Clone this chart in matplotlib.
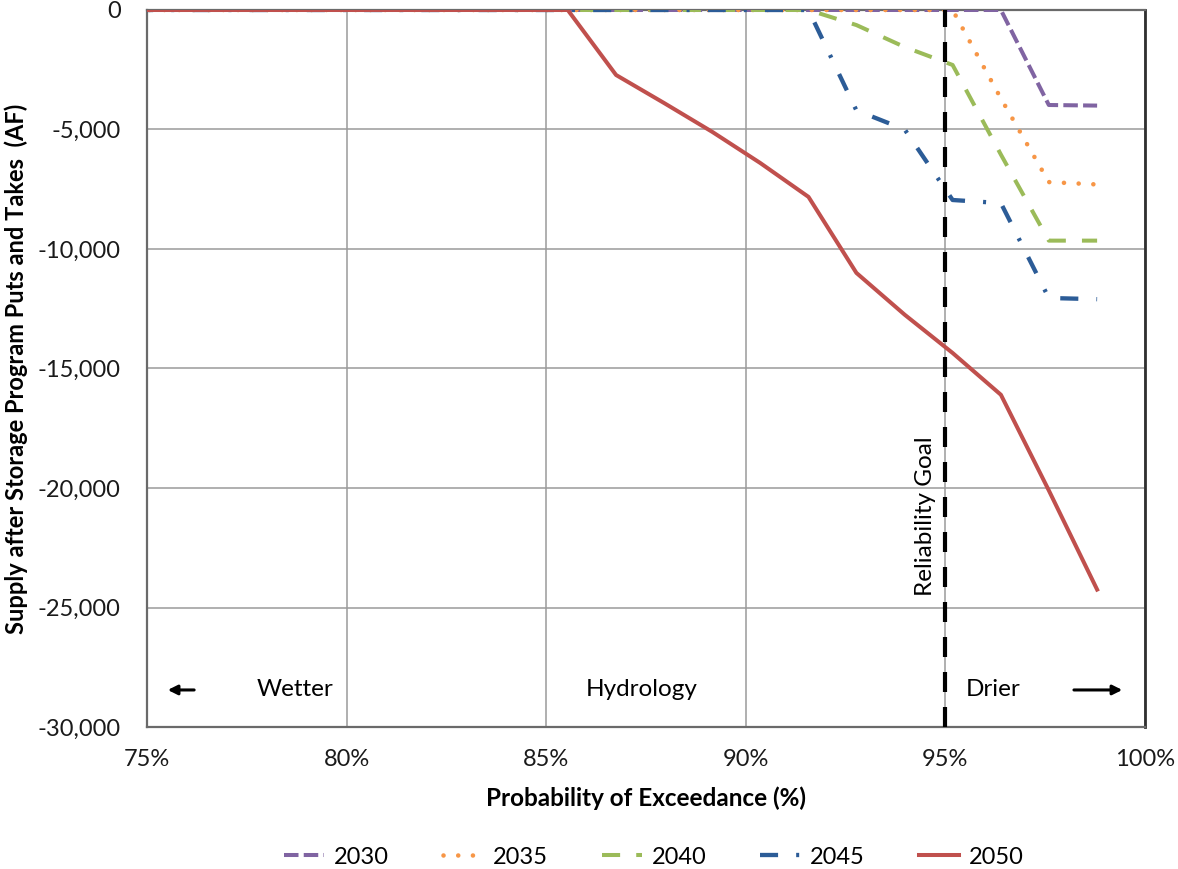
import matplotlib
matplotlib.use("Agg")
import matplotlib.pyplot as plt
from matplotlib.ticker import FuncFormatter, MultipleLocator

plt.rcParams['font.family'] = ['Lato', 'DejaVu Sans']

# Exceedance probabilities (%) of the plotted vertices
prob = [74.70, 85.54, 86.75, 87.95, 89.16, 90.36, 91.57, 92.77, 93.98, 95.18, 96.39, 97.59, 98.80]

s2030 = [0, 0, 0, 0, 0, 0, 0, 0, 0, 0, 0, -3975, -4000]
s2035 = [0, 0, 0, 0, 0, 0, 0, 0, 0, 0, -3700, -7200, -7300]
s2040 = [0, 0, 0, 0, 0, 0, 0, -630, -1550, -2300, -6050, -9650, -9650]
s2045 = [0, 0, 0, 0, 0, 0, 0, -4200, -5000, -7950, -8080, -12050, -12100]
s2050 = [0, 0, -2720, -3890, -5100, -6400, -7820, -11000, -12750, -14350, -16100, -20100, -24250]

labels = ['2030', '2035', '2040', '2045', '2050']
colors = ['#8064A2', '#F79646', '#9BBB59', '#2C5C97', '#C0504D']

fig = plt.figure(figsize=(11.78, 8.69), dpi=100)
ax = fig.add_axes([0.1248, 0.1634, 0.972 - 0.1248, 0.9885 - 0.1634])

LW = 2.9
ax.plot(prob, s2030, color=colors[0], lw=LW, dashes=(3.6, 1.3), label=labels[0], zorder=3)
ax.plot(prob, s2035, color=colors[1], lw=LW + 0.4, dashes=(0.01, 3.2), dash_capstyle='round', label=labels[1], zorder=3)
ax.plot(prob, s2040, color=colors[2], lw=LW, dashes=(4.5, 4.0), label=labels[2], zorder=3)
ax.plot(prob, s2045, color=colors[3], lw=LW + 0.2, dashes=(4.2, 4.2, 0.7, 4.2), label=labels[3], zorder=3)
ax.plot(prob, s2050, color=colors[4], lw=LW, label=labels[4], zorder=4)

ax.axvline(95, color='black', lw=3.0, dashes=(4.8, 3.6), zorder=5)

ax.set_xlim(75, 100)
ax.set_ylim(-30000, 0)
ax.xaxis.set_major_locator(MultipleLocator(5))
ax.yaxis.set_major_locator(MultipleLocator(5000))
ax.xaxis.set_major_formatter(FuncFormatter(lambda v, p: f"{v:.0f}%"))
ax.yaxis.set_major_formatter(FuncFormatter(lambda v, p: f"{v:,.0f}"))
ax.grid(True, color='#9A9A9A', lw=1.1, zorder=0)
ax.tick_params(axis='both', length=0, labelsize=17, colors='#1a1a1a')
ax.tick_params(axis='x', pad=16)
ax.tick_params(axis='y', pad=19)

for s in ['left', 'bottom', 'top']:
    ax.spines[s].set_color('#6A6A6A')
    ax.spines[s].set_linewidth(1.6)
ax.spines['right'].set_color('#303030')
ax.spines['right'].set_linewidth(2)

ax.set_xlabel('Probability of Exceedance (%)', fontsize=17.5, fontweight='bold')
ax.set_ylabel('Supply after Storage Program Puts and Takes  (AF)', fontsize=17, fontweight='bold')
ax.xaxis.set_label_coords(0.5, -(786 - 727) / 717, transform=ax.transAxes)
ax.yaxis.set_label_coords(-(147 - 28) / 998, 0.5, transform=ax.transAxes)

ax.text(94.49, -21170, 'Reliability Goal', rotation=90, ha='center', va='center', fontsize=17.5)
ty = -28450
ax.text(78.71, ty, 'Wetter', ha='center', va='center', fontsize=17.5)
ax.text(87.40, ty, 'Hydrology', ha='center', va='center', fontsize=17.5)
ax.text(96.2, ty, 'Drier', ha='center', va='center', fontsize=17.5)
ax.annotate('', xy=(75.45, ty), xytext=(76.25, ty),
            arrowprops=dict(arrowstyle='-|>', color='black', lw=2.2, mutation_scale=14))
ax.annotate('', xy=(99.5, ty), xytext=(98.15, ty),
            arrowprops=dict(arrowstyle='-|>', color='black', lw=2.2, mutation_scale=14))

fig.legend(loc='center', bbox_to_anchor=(0.555, 1 - 857 / 869), ncol=5, frameon=False,
           fontsize=17, handlelength=1.7, columnspacing=2.3, handletextpad=0.4)

fig.savefig('out.png', dpi=100)
